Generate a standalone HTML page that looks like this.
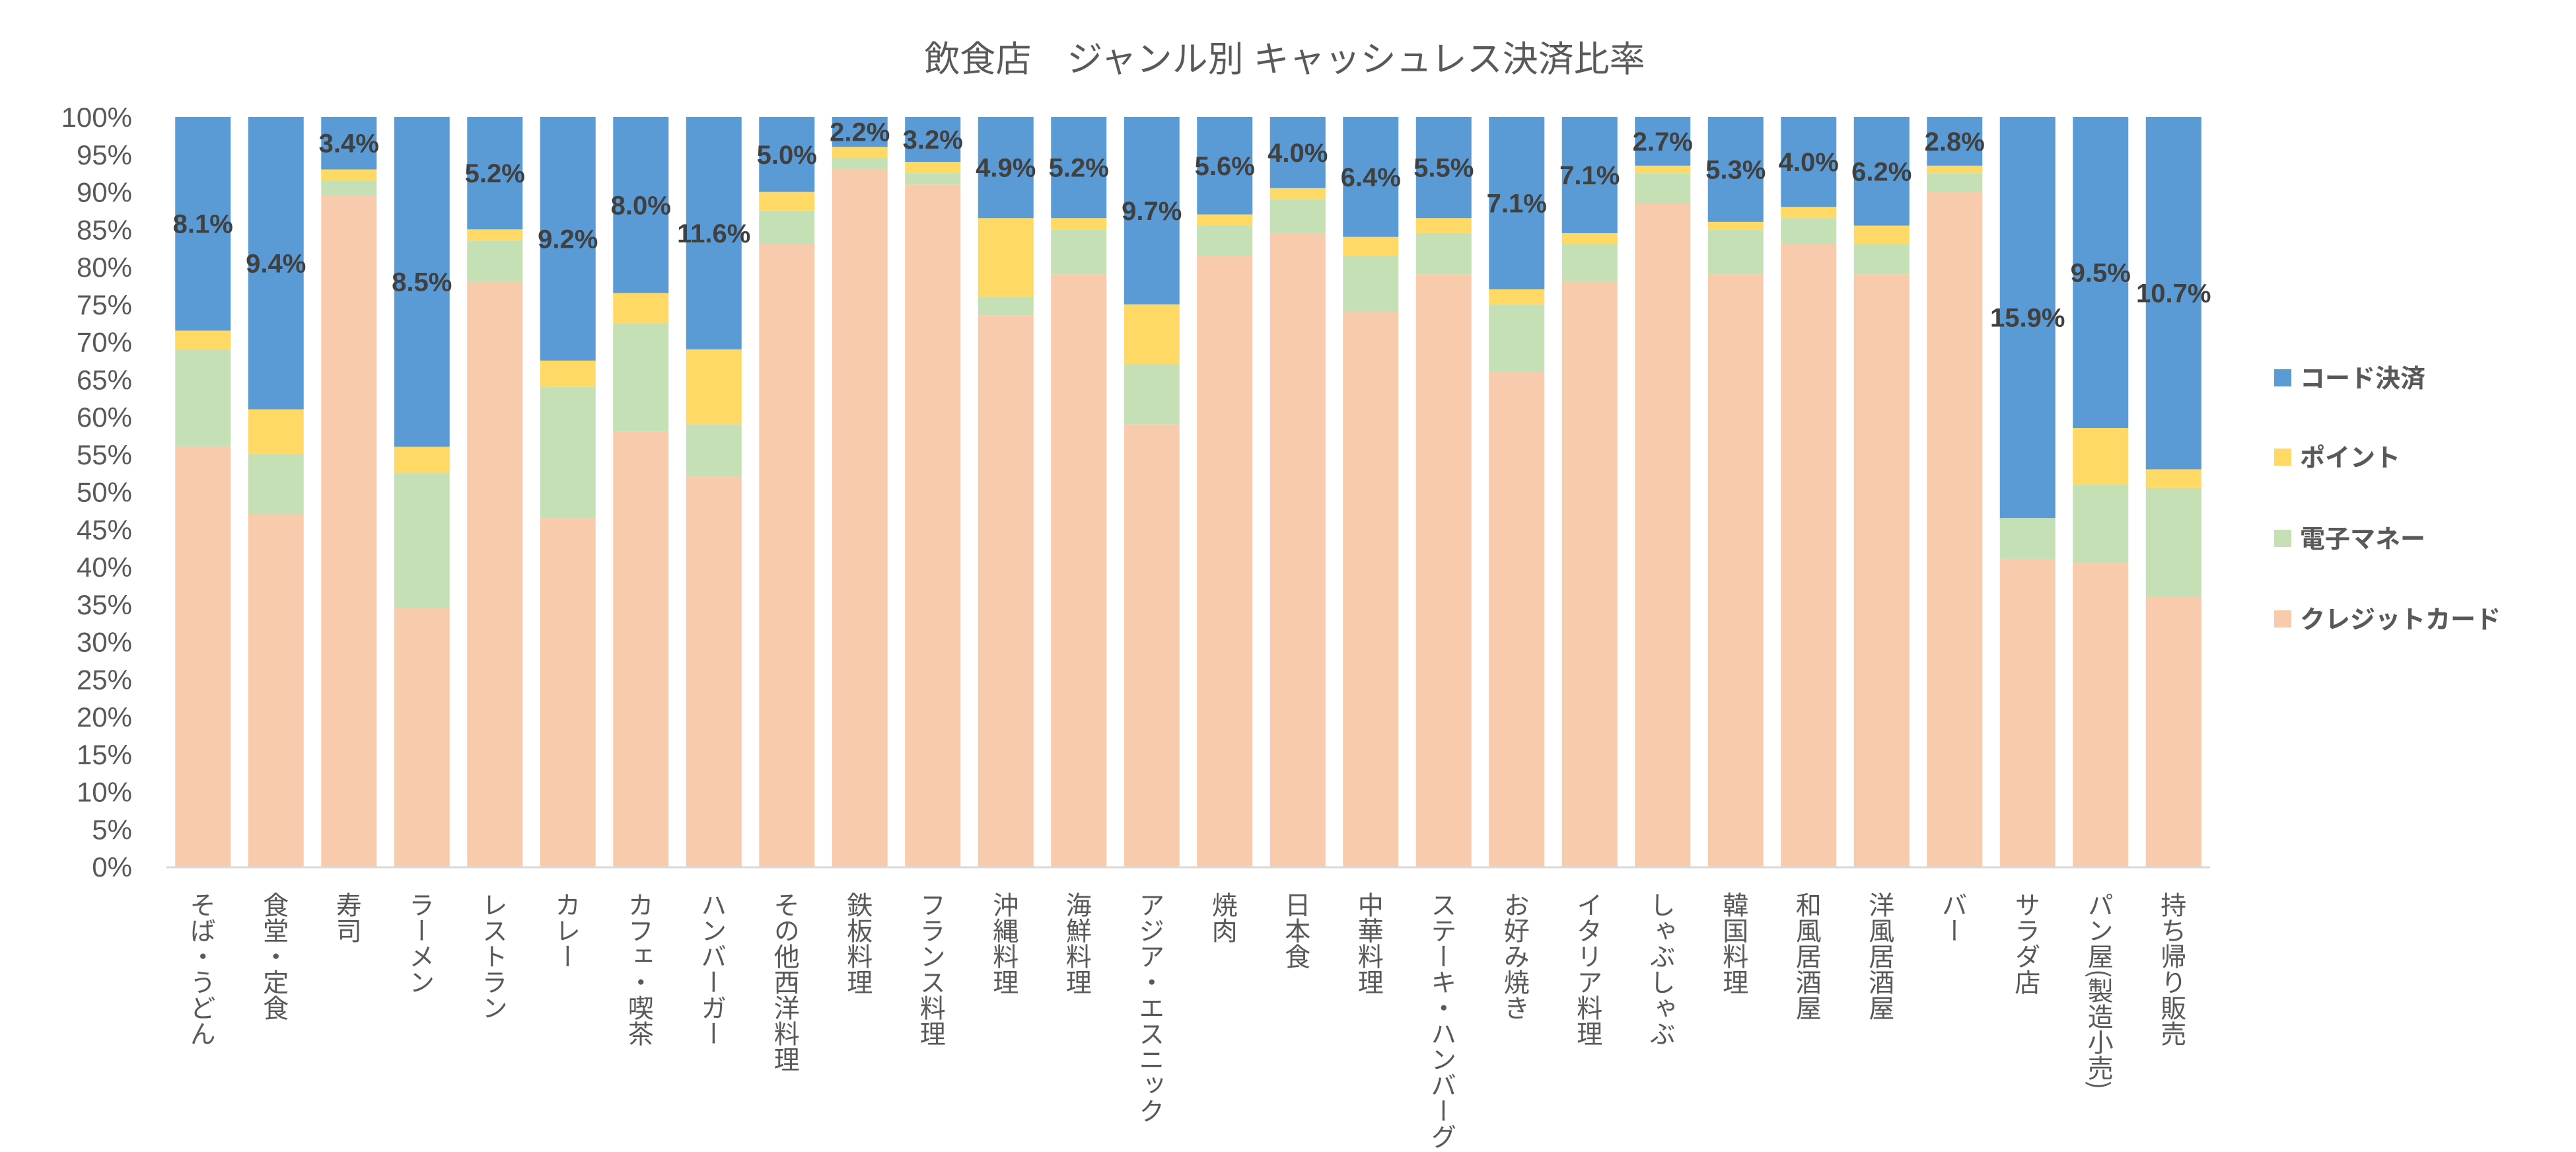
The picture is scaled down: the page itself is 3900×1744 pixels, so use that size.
<!DOCTYPE html>
<html><head><meta charset="utf-8">
<style>
html,body{margin:0;padding:0;background:#fff;}
#wrap{position:relative;width:3900px;height:1744px;overflow:hidden;font-family:"Liberation Sans","Noto Sans CJK JP",sans-serif;}
.cat{position:absolute;writing-mode:vertical-rl;font-size:39px;color:#595959;font-family:"Noto Sans CJK JP",sans-serif;line-height:1;white-space:nowrap;}
</style></head>
<body>
<div id="wrap">
<svg id="svg" width="3900" height="1744" xmlns="http://www.w3.org/2000/svg"></svg>
</div>
<script>
const categories=["そば・うどん","食堂・定食","寿司","ラーメン","レストラン","カレー","カフェ・喫茶","ハンバーガー","その他西洋料理","鉄板料理","フランス料理","沖縄料理","海鮮料理","アジア・エスニック","焼肉","日本食","中華料理","ステーキ・ハンバーグ","お好み焼き","イタリア料理","しゃぶしゃぶ","韓国料理","和風居酒屋","洋風居酒屋","バー","サラダ店","パン屋(製造小売)","持ち帰り販売"];
const credit=[56,47,89.5,34.5,78,46.5,58,52,83,93,91,73.5,79,59,81.5,84.5,74,79,66,78,88.5,79,83,79,90,41,40.5,36];
const emoney=[13,8,2,18,5.5,17.5,14.5,7,4.5,1.5,1.5,2.5,6,8,4,4.5,7.5,5.5,9,5,4,6,3.5,4,2.5,5.5,10.5,14.5];
const point=[2.5,6,1.5,3.5,1.5,3.5,4,10,2.5,1.5,1.5,10.5,1.5,8,1.5,1.5,2.5,2,2,1.5,1,1,1.5,2.5,1,0,7.5,2.5];
const codeLabels=["8.1%","9.4%","3.4%","8.5%","5.2%","9.2%","8.0%","11.6%","5.0%","2.2%","3.2%","4.9%","5.2%","9.7%","5.6%","4.0%","6.4%","5.5%","7.1%","7.1%","2.7%","5.3%","4.0%","6.2%","2.8%","15.9%","9.5%","10.7%"];
const yTicks=[0,5,10,15,20,25,30,35,40,45,50,55,60,65,70,75,80,85,90,95,100];
const seriesNames=["コード決済","ポイント","電子マネー","クレジットカード"];

const NS="http://www.w3.org/2000/svg";
const svg=document.getElementById('svg');
const wrap=document.getElementById('wrap');
const X0=252,X1=3346,Y0=1312,Y1=177;
const band=(X1-X0)/categories.length, bw=84;
const y=v=>Y0-(v/100)*(Y0-Y1);
const xc=i=>X0+band*(i+0.5);
const colors={code:"#5B9BD5",point:"#FFD966",emoney:"#C5E0B4",credit:"#F8CBAD"};
function mk(tag,attrs){const e=document.createElementNS(NS,tag);for(const k in attrs)e.setAttribute(k,attrs[k]);svg.appendChild(e);return e;}

const t=mk('text',{x:1945,y:108,'font-size':54,fill:'#595959','text-anchor':'middle','font-family':'"Liberation Sans","Noto Sans CJK JP",sans-serif'});
t.textContent="飲食店　ジャンル別 キャッシュレス決済比率";



yTicks.forEach(v=>{
  const e=mk('text',{x:200,y:y(v)+15,'font-size':42,fill:'#595959','text-anchor':'end'});
  e.textContent=v+"%";
  
  
});

categories.forEach((c,i)=>{
  const segs=[["credit",0,credit[i]],["emoney",credit[i],credit[i]+emoney[i]],["point",credit[i]+emoney[i],credit[i]+emoney[i]+point[i]],["code",credit[i]+emoney[i]+point[i],100]];
  segs.forEach(s=>{
    if(s[2]-s[1]<=0)return;
    const r=mk('rect',{x:xc(i)-bw/2,y:y(s[2]),width:bw,height:y(s[1])-y(s[2]),fill:colors[s[0]]});
    
    
  });
  const top=credit[i]+emoney[i]+point[i];
  const lab=mk('text',{x:xc(i),y:y((top+100)/2)+14,'font-size':40,'font-weight':'bold',fill:'#404040','text-anchor':'middle'});
  lab.textContent=codeLabels[i];
  
  
  const d=document.createElement('div');
  d.className='cat';
  d.style.left=(xc(i)-20)+'px';
  d.style.top='1350px';
  d.textContent=c;
  
  
  wrap.appendChild(d);
});

const ax=mk('line',{x1:X0,x2:X1,y1:Y0+1,y2:Y0+1,stroke:'#D9D9D9','stroke-width':3});



const legY=[572,692,815,937];
const legC=[colors.code,colors.point,colors.emoney,colors.credit];
seriesNames.forEach((n,k)=>{
  const r=mk('rect',{x:3443,y:legY[k]-13,width:26,height:26,fill:legC[k]});
  
  
  const tx=mk('text',{x:3482,y:legY[k]+14,'font-size':38,'font-weight':'bold',fill:'#595959'});
  tx.textContent=n;
  
  
});
</script>
</body></html>
